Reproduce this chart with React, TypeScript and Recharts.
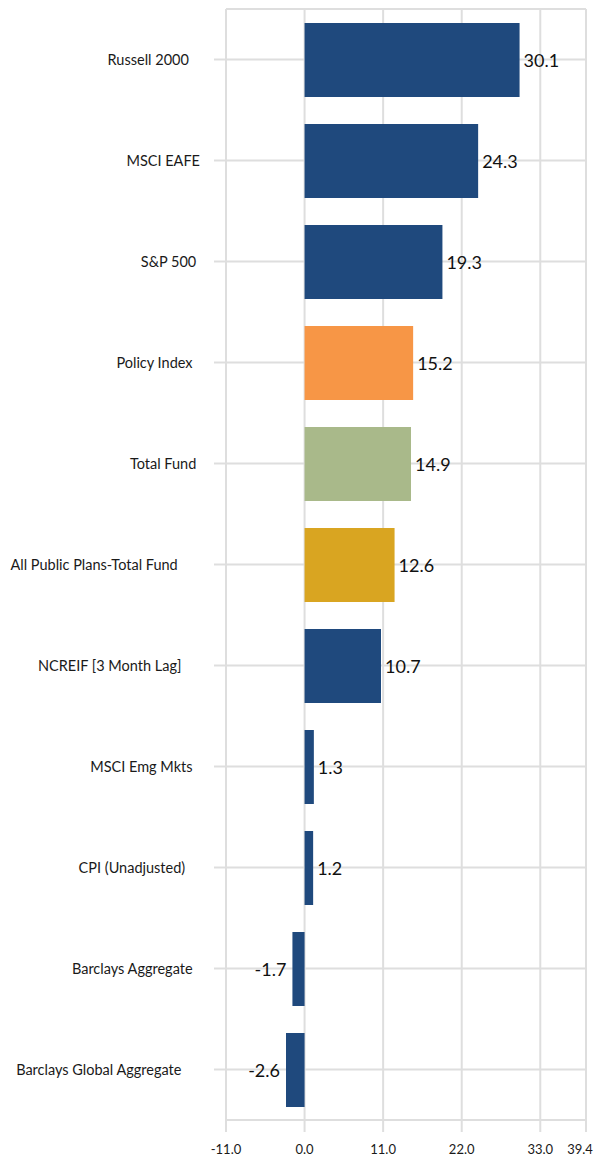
import { Bar, BarChart, CartesianGrid, Cell, LabelList, XAxis, YAxis } from "recharts";

// trailing no-break spaces mirror the padded labels of the source sheet
const categories = [
  "Russell 2000\u00a0\u00a0\u00a0",
  "MSCI EAFE",
  "S&P 500\u00a0",
  "Policy Index\u00a0\u00a0",
  "Total Fund\u00a0",
  "All Public Plans-Total Fund\u00a0\u00a0\u00a0\u00a0\u00a0\u00a0",
  "NCREIF [3 Month Lag]\u00a0\u00a0\u00a0\u00a0\u00a0",
  "MSCI Emg Mkts\u00a0\u00a0",
  "CPI (Unadjusted)\u00a0\u00a0\u00a0\u00a0",
  "Barclays Aggregate\u00a0\u00a0",
  "Barclays Global Aggregate\u00a0\u00a0\u00a0\u00a0\u00a0",
];

const returns = [30.1, 24.3, 19.3, 15.2, 14.9, 12.6, 10.7, 1.3, 1.2, -1.7, -2.6];

const xTicks = [-11, 0, 11, 22, 33, 39.4];

const NAVY = "#1f497d";
const barColors = [NAVY, NAVY, NAVY, "#f79646", "#a9b98a", "#d9a521", NAVY, NAVY, NAVY, NAVY, NAVY];

const GRID = "#dedede";
const FONT = "Lato, 'Open Sans', sans-serif";

const chartData = categories.map((name, i) => ({ name, value: returns[i] }));

function CategoryTick(props: any) {
  const { x, y, payload } = props;
  return (
    <text x={x} y={y} textAnchor="end" dominantBaseline="central" fontFamily={FONT} fontSize={14.5} fill="#1a1a1a">
      {payload.value}
    </text>
  );
}

function ValueTick(props: any) {
  const { x, y, payload, index } = props;
  // the last label is nudged inwards so it stays inside the frame
  const shift = index === xTicks.length - 1 ? -6 : 0;
  return (
    <text x={x + shift} y={y} dy="0.71em" textAnchor="middle" fontFamily={FONT} fontSize={13} fill="#1a1a1a">
      {payload.value.toFixed(1)}
    </text>
  );
}

function ValueLabel(props: any) {
  const { x, y, width, height, value } = props;
  const left = Math.min(x, x + width);
  const right = Math.max(x, x + width);
  const neg = value < 0;
  return (
    <text
      x={neg ? left - 6 : right + 4}
      y={y + height / 2}
      textAnchor={neg ? "end" : "start"}
      dominantBaseline="central"
      fontFamily={FONT}
      fontSize={18}
      fill="#111"
    >
      {value.toFixed(1)}
    </text>
  );
}

export default function App() {
  return (
    <div style={{ position: "absolute", left: 0, top: 0, width: 597, height: 1160, background: "#fff" }}>
      <BarChart
        width={597}
        height={1160}
        data={chartData}
        layout="vertical"
        margin={{ top: 9, right: 11, left: 0, bottom: 0 }}
        barSize={74}
      >
        <CartesianGrid stroke={GRID} strokeWidth={2} />
        <XAxis
          type="number"
          domain={[-11, 39.4]}
          ticks={xTicks}
          height={40}
          tickSize={12}
          tickMargin={13}
          axisLine={{ stroke: GRID, strokeWidth: 2 }}
          tickLine={{ stroke: GRID, strokeWidth: 2 }}
          tick={<ValueTick />}
          interval={0}
          allowDataOverflow
        />
        <XAxis
          xAxisId="top"
          orientation="top"
          type="number"
          domain={[-11, 39.4]}
          height={0}
          tick={false}
          tickLine={false}
          axisLine={{ stroke: GRID, strokeWidth: 2 }}
        />
        <YAxis
          type="category"
          dataKey="name"
          width={226}
          tickSize={12}
          tickMargin={14}
          axisLine={{ stroke: GRID, strokeWidth: 2 }}
          tickLine={{ stroke: GRID, strokeWidth: 2 }}
          tick={<CategoryTick />}
          interval={0}
        />
        <Bar dataKey="value" isAnimationActive={false}>
          {chartData.map((d, i) => (
            <Cell key={d.name} fill={barColors[i]} />
          ))}
          <LabelList dataKey="value" content={<ValueLabel />} />
        </Bar>
      </BarChart>
    </div>
  );
}
